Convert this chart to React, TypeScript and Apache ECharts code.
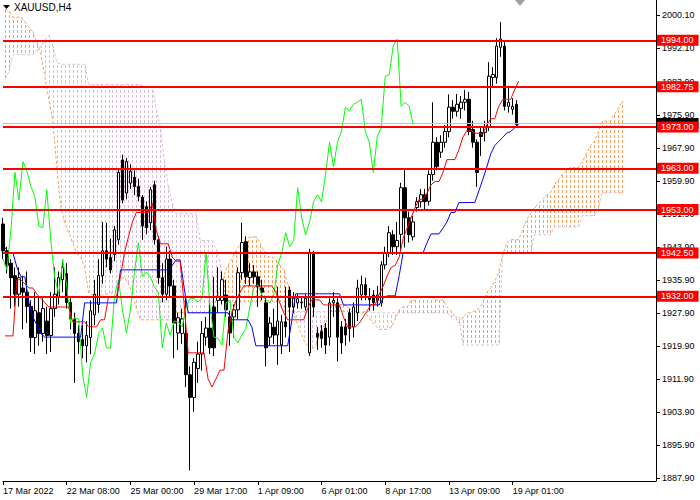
import React, { useEffect, useRef } from 'react';
import * as echarts from 'echarts';

const chartTitle = 'XAUUSD,H4';
const xTickLabels = ['17 Mar 2022', '22 Mar 08:00', '25 Mar 00:00', '29 Mar 17:00', '1 Apr 09:00', '6 Apr 01:00', '8 Apr 17:00', '13 Apr 09:00', '19 Apr 01:00'];
const barsPerTick = 16;
const totalSlots = 165;
const indicatorSlots = 164;
const chikouShift = 26;

const yTicks = [1887.9, 1895.9, 1903.9, 1911.9, 1919.9, 1927.9, 1935.9, 1943.9, 1951.9, 1959.9, 1967.9, 1975.9, 1983.9, 1992.1, 2000.1];
const yMin = 1887.25;
const yMax = 2003.76;

// [open, close, low, high]
const candles: number[][] = [
  [1949.5, 1943.0, 1941.0, 1951.0], [1943.0, 1939.5, 1937.5, 1944.0], [1940.0, 1936.5, 1929.0, 1941.0], [1937.0, 1932.5, 1929.5, 1939.0],
  [1932.5, 1936.5, 1929.5, 1939.0], [1934.0, 1933.0, 1924.0, 1937.0], [1933.0, 1929.5, 1925.5, 1938.0], [1929.5, 1922.0, 1918.5, 1931.0],
  [1922.0, 1928.5, 1918.0, 1933.0], [1928.0, 1923.0, 1920.0, 1932.0], [1923.0, 1929.0, 1921.0, 1931.5], [1926.0, 1922.5, 1918.0, 1929.5],
  [1922.5, 1929.0, 1918.5, 1933.0], [1929.0, 1932.5, 1927.0, 1939.0], [1932.0, 1936.5, 1930.0, 1938.0], [1936.0, 1939.0, 1933.0, 1941.0],
  [1937.5, 1930.5, 1929.0, 1940.0], [1930.5, 1926.5, 1924.0, 1931.5], [1926.5, 1923.0, 1911.0, 1928.0], [1923.0, 1921.0, 1918.0, 1925.0],
  [1921.5, 1920.0, 1917.0, 1925.0], [1920.0, 1922.5, 1916.0, 1926.0], [1922.0, 1928.5, 1918.0, 1931.0], [1927.5, 1932.5, 1925.0, 1936.0],
  [1930.0, 1937.0, 1928.0, 1941.0], [1937.0, 1943.0, 1935.0, 1950.0], [1943.0, 1941.0, 1939.0, 1949.8], [1941.4, 1938.4, 1937.5, 1946.0],
  [1942.1, 1948.1, 1940.5, 1949.0], [1945.7, 1962.0, 1944.5, 1963.0], [1965.0, 1955.3, 1954.5, 1966.3], [1957.0, 1964.6, 1955.5, 1965.5],
  [1959.4, 1962.3, 1958.0, 1964.0], [1960.8, 1958.6, 1956.5, 1962.5],
  [1958.6, 1956.2, 1955.0, 1960.5], [1956.0, 1949.0, 1945.7, 1956.5], [1953.7, 1948.6, 1947.0, 1955.0], [1949.8, 1957.8, 1948.0, 1958.5],
  [1959.0, 1945.7, 1944.5, 1960.0], [1945.7, 1936.5, 1935.0, 1946.5], [1936.5, 1932.5, 1930.5, 1940.0], [1932.5, 1941.0, 1931.0, 1944.0],
  [1941.0, 1934.5, 1932.0, 1943.0], [1934.5, 1925.5, 1917.0, 1936.0], [1923.1, 1926.8, 1919.0, 1928.0], [1923.0, 1926.5, 1920.5, 1929.0],
  [1923.0, 1913.0, 1910.0, 1932.0], [1913.0, 1907.5, 1889.8, 1915.0], [1907.5, 1916.0, 1904.0, 1917.0], [1914.5, 1918.0, 1911.0, 1921.0],
  [1918.0, 1923.0, 1914.0, 1926.0], [1922.1, 1924.3, 1920.0, 1927.0], [1924.3, 1919.5, 1918.0, 1930.4], [1929.4, 1919.5, 1917.5, 1936.7],
  [1931.0, 1932.0, 1928.0, 1939.0], [1931.0, 1936.0, 1930.0, 1938.0], [1932.3, 1928.7, 1927.0, 1936.0], [1927.0, 1923.1, 1920.0, 1928.5],
  [1927.0, 1928.7, 1922.0, 1930.0], [1928.7, 1937.7, 1926.5, 1939.0], [1937.7, 1945.0, 1936.0, 1949.8], [1945.2, 1936.7, 1935.0, 1946.5],
  [1936.5, 1937.9, 1934.5, 1940.0], [1937.9, 1936.7, 1935.0, 1939.5], [1936.7, 1934.3, 1929.4, 1938.0], [1934.0, 1933.0, 1931.0, 1936.0],
  [1930.4, 1919.5, 1915.0, 1932.0], [1922.1, 1925.5, 1920.0, 1927.0], [1924.5, 1922.6, 1920.5, 1929.0], [1922.6, 1926.0, 1915.4, 1934.3],
  [1920.2, 1925.8, 1918.0, 1927.5], [1925.8, 1924.6, 1922.0, 1934.3], [1933.5, 1929.4, 1918.5, 1934.3], [1929.4, 1931.5, 1928.0, 1933.0],
  [1930.4, 1931.4, 1929.0, 1932.5], [1930.4, 1930.6, 1929.0, 1932.0], [1929.4, 1931.5, 1928.5, 1932.5], [1918.3, 1942.5, 1917.5, 1943.5],
  [1942.5, 1929.4, 1927.0, 1943.0], [1923.0, 1922.1, 1919.0, 1924.5], [1923.5, 1921.8, 1919.5, 1925.0], [1924.3, 1920.2, 1918.0, 1925.5],
  [1922.1, 1930.4, 1920.0, 1931.5], [1930.4, 1931.0, 1927.0, 1933.0], [1930.4, 1922.1, 1916.2, 1931.5], [1924.6, 1920.7, 1918.0, 1926.0],
  [1924.6, 1922.6, 1920.0, 1926.5], [1928.0, 1924.2, 1921.0, 1929.0], [1924.6, 1929.4, 1922.0, 1930.5], [1928.0, 1934.0, 1926.0, 1936.0],
  [1932.3, 1934.8, 1931.0, 1937.0], [1934.8, 1932.3, 1931.0, 1936.5], [1931.9, 1931.2, 1928.5, 1934.0], [1932.3, 1930.4, 1928.5, 1933.5],
  [1931.0, 1932.3, 1929.5, 1934.5], [1930.4, 1939.6, 1929.5, 1940.5], [1939.6, 1942.5, 1938.5, 1944.0], [1942.5, 1947.4, 1941.5, 1949.0],
  [1946.9, 1944.0, 1942.0, 1948.0], [1944.0, 1945.5, 1942.0, 1950.0], [1947.0, 1958.3, 1943.0, 1959.5], [1958.3, 1951.0, 1943.8, 1962.7],
  [1951.0, 1946.9, 1945.0, 1952.5], [1946.4, 1950.0, 1945.5, 1951.5], [1953.5, 1954.9, 1952.5, 1956.0], [1954.9, 1956.6, 1953.5, 1958.0],
  [1956.6, 1954.9, 1953.0, 1958.0], [1955.0, 1961.5, 1954.0, 1962.5], [1961.5, 1969.3, 1960.0, 1979.0], [1969.3, 1963.4, 1962.5, 1970.5],
  [1966.9, 1969.3, 1965.5, 1971.0], [1969.3, 1971.9, 1968.0, 1973.5], [1971.9, 1977.8, 1970.5, 1980.9], [1977.8, 1976.8, 1975.0, 1979.5],
  [1976.8, 1978.5, 1975.5, 1981.0], [1977.5, 1979.0, 1975.0, 1980.5], [1979.0, 1979.7, 1977.0, 1982.0], [1979.7, 1971.9, 1971.0, 1981.5],
  [1972.4, 1969.3, 1968.0, 1974.5], [1969.3, 1962.0, 1958.5, 1970.0], [1971.7, 1970.7, 1966.0, 1973.0], [1971.7, 1972.9, 1969.5, 1974.5],
  [1972.9, 1985.3, 1972.0, 1988.7], [1985.0, 1985.7, 1982.5, 1987.5], [1985.0, 1992.6, 1983.5, 1994.5], [1992.3, 1994.3, 1990.0, 1998.4],
  [1992.6, 1978.0, 1977.0, 1994.0], [1978.0, 1979.0, 1976.5, 1983.0], [1977.3, 1978.0, 1976.0, 1980.0], [1978.5, 1973.6, 1973.0, 1979.5],
];

const tenkan = [
  1922.4, 1922.4, 1922.4, 1936.0, 1936.0, 1935.0, 1934.0, 1934.0, 1932.5, 1931.5, 1930.5,
  1929.4, 1929.4, 1929.4, 1929.4, 1929.4, 1929.4, 1925.8, 1925.8, 1925.8, 1925.8,
  1924.6, 1924.6, 1924.6, 1926.3, 1926.3, 1931.9, 1931.9, 1931.9, 1936.7, 1942.5, 1946.4, 1950.0,
  1952.3, 1952.3, 1952.3, 1952.3, 1954.5, 1948.0, 1944.7, 1944.7, 1944.7, 1941.5, 1940.5, 1940.5, 1930.0,
  1918.3, 1918.3, 1918.3, 1918.3, 1918.3, 1912.0, 1910.0, 1912.0, 1914.1, 1914.1, 1923.5, 1928.0, 1931.0, 1933.0,
  1934.5, 1934.5, 1934.5, 1934.5, 1934.5, 1934.5, 1934.5, 1934.5, 1933.0, 1930.4, 1928.0,
  1926.3, 1926.3, 1926.3, 1926.3, 1926.3, 1929.0, 1931.1, 1931.1, 1931.1,
  1929.9, 1929.9, 1929.9, 1929.9, 1929.9, 1927.0, 1924.6, 1924.6, 1924.6, 1925.5, 1927.0, 1928.5, 1930.0, 1930.0,
  1932.5, 1934.5, 1937.0, 1939.0, 1939.5, 1941.5, 1946.0, 1948.5, 1951.0, 1953.5, 1955.5, 1955.5, 1957.0, 1959.0,
  1959.8, 1959.8, 1962.0, 1965.1, 1965.1, 1965.1, 1967.5, 1970.5, 1972.2, 1972.2, 1971.5, 1971.5, 1971.2, 1973.5,
  1975.0, 1975.0, 1978.0, 1979.7, 1979.7, 1979.7, 1982.0, 1984.1,
];

const kijun = [
  1943.8, 1942.5, 1942.5, 1939.0, 1936.7, 1936.7, 1930.5, 1927.0, 1925.0, 1923.0,
  1922.1, 1922.1, 1922.1, 1922.1, 1922.1, 1922.1, 1922.1, 1922.1, 1922.1, 1922.1,
  1930.4, 1930.4, 1930.4, 1930.4, 1930.4, 1930.4, 1930.4, 1930.4, 1930.4,
  1938.4, 1938.4, 1938.4, 1938.4, 1938.4, 1938.4, 1938.4, 1938.4, 1938.4, 1938.4, 1938.4, 1938.4, 1938.4,
  1939.5, 1940.8, 1940.8, 1934.0,
  1928.0, 1928.0, 1928.0, 1928.0, 1928.0, 1928.0, 1928.0, 1928.0, 1928.0, 1928.0, 1928.0,
  1926.3, 1926.3, 1926.3, 1926.3, 1926.3, 1924.6,
  1920.0, 1920.0, 1920.0, 1920.0, 1920.0, 1920.0, 1920.0, 1920.0, 1920.0, 1926.0,
  1932.6, 1932.6, 1932.6, 1932.6, 1932.6, 1932.6, 1932.6, 1932.6, 1932.6, 1932.6, 1932.6, 1932.6,
  1929.9, 1929.9, 1929.9, 1929.9, 1929.9, 1929.9, 1929.9, 1929.9, 1929.9, 1929.9,
  1931.6, 1932.1, 1932.1, 1932.1, 1937.0, 1942.5, 1942.5, 1942.5, 1942.5, 1942.5, 1942.5,
  1945.0, 1947.1, 1947.1, 1947.1, 1948.5, 1950.0, 1952.3, 1952.3, 1954.7, 1954.7, 1954.7, 1954.7, 1954.7,
  1957.5, 1960.3, 1963.3, 1966.5, 1968.5, 1969.5, 1970.5, 1971.5, 1971.9, 1972.8, 1973.6,
];

const senkouA = [
  2001.5, 2001.0, 1999.6, 1999.6, 1999.6, 1998.4, 1997.2, 1996.0, 1993.5, 1990.6,
  1985.3, 1979.7, 1974.8, 1963.4, 1953.7, 1949.8, 1947.4, 1944.9, 1942.5, 1941.3,
  1939.1, 1932.8, 1932.3, 1932.3, 1932.3, 1932.3, 1932.8, 1932.8, 1933.5, 1936.0,
  1936.7, 1935.0, 1932.5, 1929.0, 1926.3, 1926.3, 1926.3, 1926.3, 1926.3, 1926.3,
  1926.3, 1926.3, 1926.3, 1928.0, 1928.0, 1928.0, 1928.0, 1928.0, 1928.0, 1928.0,
  1928.0, 1928.0, 1928.0, 1931.0, 1934.0, 1937.0, 1939.5, 1941.0, 1943.0, 1944.5,
  1945.5, 1946.2, 1946.4, 1946.4, 1945.0, 1943.0, 1941.6, 1941.5, 1940.8, 1939.5,
  1938.5, 1935.0, 1931.0, 1926.3, 1923.9, 1921.5, 1920.0, 1919.0, 1920.0, 1922.5,
  1924.6, 1926.5, 1929.5, 1930.0, 1930.0, 1930.0, 1929.5, 1928.5, 1928.5, 1928.0,
  1928.0, 1927.5, 1926.0, 1925.0, 1924.0, 1924.0, 1924.0, 1924.5, 1926.5, 1928.7,
  1929.4, 1929.4, 1931.0, 1931.0, 1931.9, 1931.9, 1931.9, 1931.9, 1931.1, 1931.1,
  1931.1, 1929.4, 1928.5, 1927.0, 1925.5, 1927.0, 1928.0, 1928.0, 1928.5, 1929.0,
  1930.5, 1933.0, 1934.0, 1935.5, 1938.0, 1942.0, 1945.0, 1945.7, 1945.7, 1945.7,
  1948.0, 1950.6, 1952.0, 1953.5, 1954.5, 1955.5, 1956.5, 1957.1, 1959.0, 1960.3,
  1961.5, 1962.5, 1963.2, 1963.2, 1963.2, 1964.5, 1966.5, 1968.5, 1969.5, 1971.7,
  1974.4, 1974.4, 1974.4, 1976.0, 1977.5, 1979.2,
];

const senkouB = [
  1984.6, 1986.5, 1990.5, 1990.5, 1990.5, 1990.5, 1990.5, 1990.5, 1991.5, 1992.5,
  1994.0, 1995.2, 1992.6, 1988.7, 1988.2, 1988.2, 1988.2, 1988.2, 1988.2, 1988.2,
  1988.2, 1983.3, 1983.3, 1983.3, 1983.3, 1983.3, 1983.3, 1983.3, 1983.3, 1983.3,
  1983.3, 1983.3, 1983.3, 1983.3, 1983.3, 1982.6, 1982.6, 1982.6, 1977.3, 1973.0,
  1965.0, 1958.6, 1954.7, 1952.0, 1952.0, 1952.0, 1952.0, 1952.0, 1952.0, 1945.5,
  1945.5, 1945.5, 1945.5, 1943.5, 1940.0, 1933.0, 1930.6, 1930.6, 1930.6, 1930.6,
  1930.6, 1930.6, 1930.6, 1930.6, 1930.6, 1930.6, 1930.6, 1930.6, 1930.6, 1930.6,
  1928.3, 1928.3, 1928.3, 1928.3, 1928.3, 1928.3, 1928.3, 1928.3, 1928.3, 1928.3,
  1928.3, 1928.3, 1928.3, 1928.3, 1928.3, 1928.3, 1928.3, 1928.3, 1928.3, 1928.3,
  1928.3, 1928.3, 1928.3, 1928.0, 1928.0, 1928.0, 1928.0, 1928.0, 1928.0, 1928.0,
  1928.0, 1928.0, 1928.0, 1928.0, 1928.0, 1928.0, 1928.0, 1928.0, 1928.0, 1928.0,
  1928.0, 1928.0, 1927.0, 1927.0, 1927.0, 1920.2, 1920.2, 1920.2, 1920.2, 1920.2,
  1920.2, 1920.2, 1920.2, 1920.2, 1920.2, 1942.5, 1942.5, 1942.5, 1942.5, 1942.5,
  1942.5, 1942.5, 1942.5, 1946.9, 1946.9, 1946.9, 1946.9, 1946.9, 1948.8, 1948.8,
  1948.8, 1948.8, 1948.8, 1948.8, 1948.8, 1951.5, 1951.5, 1951.5, 1951.5, 1953.0,
  1957.1, 1957.1, 1957.1, 1957.1, 1957.1, 1957.1,
];

const levels = [1994.0, 1982.75, 1973.0, 1963.0, 1953.0, 1942.5, 1932.0];
const bidPrice = 1973.85;

const FONT = 'Liberation Sans';
const ORANGE = '#F4A460';
const THISTLE = '#D8BFD8';
const DASH_ON = 3;
const DASH_PERIOD = 5;

export default function App() {
  const ref = useRef<HTMLDivElement>(null);

  useEffect(() => {
    if (!ref.current) return;
    const chart = echarts.init(ref.current, undefined, { renderer: 'svg' });

    const categories = Array.from({ length: totalSlots }, (_, i) => String(i));
    const indicatorCategories = Array.from({ length: indicatorSlots }, (_, i) => String(i));
    const isTick = (i: number) => i % barsPerTick === 0 && i / barsPerTick < xTickLabels.length;
    const closes = candles.map((c) => c[1]);
    const chikou = closes.slice(chikouShift);
    const cloudRows = senkouA.map((a, i) => [i, a, senkouB[i]]);

    // dotted vertical hatch between the two spans, drawn as crisp 1px dashes
    const hatchRender = (params: any, api: any) => {
      const i = api.value(0);
      const a = api.value(1);
      const b = api.value(2);
      const p1 = api.coord([i, a]);
      const p2 = api.coord([i, b]);
      const col = a >= b ? ORANGE : THISTLE;
      const xCol = Math.round(p1[0]);
      const yTop = Math.round(Math.min(p1[1], p2[1]));
      const yBot = Math.round(Math.max(p1[1], p2[1]));
      const children: any[] = [];
      for (let y = Math.floor(yTop / DASH_PERIOD) * DASH_PERIOD; y < yBot; y += DASH_PERIOD) {
        const s = Math.max(y, yTop);
        const e = Math.min(y + DASH_ON, yBot);
        if (e > s) {
          children.push({ type: 'rect', shape: { x: xCol, y: s, width: 1, height: e - s }, style: { fill: col } });
        }
      }
      return { type: 'group', children };
    };

    const labelCommon = {
      show: true, position: 'end', distance: 1,
      formatter: (p: any) => Number(p.value).toFixed(2),
      padding: [1, 5, 0, 4], fontSize: 9, lineHeight: 10, fontFamily: FONT,
    };

    const option: any = {
      animation: false,
      backgroundColor: '#ffffff',
      textStyle: { fontFamily: FONT },
      grid: { left: 0, right: 44, top: 0, bottom: 19, containLabel: false },
      xAxis: [
        {
          type: 'category',
          data: categories,
          boundaryGap: false,
          axisLine: { show: true, lineStyle: { color: '#000', width: 1 } },
          axisTick: { show: true, interval: (i: number) => isTick(i), length: 4, lineStyle: { color: '#000' } },
          axisLabel: {
            show: true,
            interval: (i: number) => isTick(i),
            formatter: (v: string) => {
              const i = Number(v);
              return isTick(i) ? xTickLabels[i / barsPerTick] : '';
            },
            align: 'left',
            margin: 5,
            color: '#000',
            fontSize: 9,
            fontFamily: FONT,
          },
          splitLine: { show: false },
        },
        {
          type: 'category',
          data: indicatorCategories,
          boundaryGap: true,
          show: false,
          position: 'bottom',
        },
      ],
      yAxis: {
        type: 'value',
        position: 'right',
        min: yMin,
        max: yMax,
        scale: true,
        axisLine: { show: true, lineStyle: { color: '#000', width: 1 } },
        axisTick: { show: true, customValues: yTicks, length: 4, lineStyle: { color: '#000' } },
        axisLabel: {
          show: true,
          customValues: yTicks,
          formatter: (v: number) => v.toFixed(2),
          color: '#000',
          fontSize: 9,
          fontFamily: FONT,
          margin: 6,
        },
        splitLine: { show: false },
      },
      graphic: [
        { type: 'polygon', shape: { points: [[3, 5], [10, 5], [6.5, 9]] }, style: { fill: '#000' }, z: 100 },
        { type: 'text', left: 14, top: 2, style: { text: chartTitle, font: `10px "${FONT}"`, fill: '#000' }, z: 100 },
        { type: 'polygon', shape: { points: [[515, 0], [525, 0], [520, 6]] }, style: { fill: '#a0a0a0' }, z: 100 },
      ],
      series: [
        {
          type: 'custom', name: 'Cloud', silent: true, z: 1, xAxisIndex: 1,
          itemStyle: { color: ORANGE },
          encode: { x: 0, y: [1, 2] },
          data: cloudRows,
          renderItem: hatchRender,
        },
        {
          type: 'line', name: 'Senkou A', data: senkouA, symbol: 'none', silent: true, z: 1, xAxisIndex: 1,
          lineStyle: { color: ORANGE, width: 1, type: [3, 2] },
        },
        {
          type: 'line', name: 'Senkou B', data: senkouB, symbol: 'none', silent: true, z: 1, xAxisIndex: 1,
          lineStyle: { color: THISTLE, width: 1, type: [3, 2] },
        },
        {
          type: 'candlestick',
          name: 'XAUUSD',
          data: candles,
          barWidth: 3,
          silent: true,
          z: 2,
          xAxisIndex: 0,
          itemStyle: { color: '#ffffff', color0: '#000000', borderColor: '#000000', borderColor0: '#000000', borderWidth: 1 },
        },
        {
          type: 'line', name: 'Chikou', data: chikou, symbol: 'none', silent: true, z: 3, xAxisIndex: 0,
          lineStyle: { color: '#00ff00', width: 1 },
        },
        {
          type: 'line', name: 'Kijun', data: kijun, symbol: 'none', silent: true, z: 3, xAxisIndex: 1,
          lineStyle: { color: '#0000ff', width: 1 },
          markLine: {
            silent: true,
            symbol: ['none', 'none'],
            z: 5,
            lineStyle: { color: '#c0c0c0', width: 1, type: 'solid' },
            label: { ...labelCommon, color: '#000', backgroundColor: '#000' },
            data: [{ yAxis: bidPrice }],
          },
        },
        {
          type: 'line', name: 'Tenkan', data: tenkan, symbol: 'none', silent: true, z: 3, xAxisIndex: 1,
          lineStyle: { color: '#ff0000', width: 1 },
          markLine: {
            silent: true,
            symbol: ['none', 'none'],
            z: 6,
            lineStyle: { color: '#ff0000', width: 2, type: 'solid' },
            label: { ...labelCommon, color: '#ffffff', backgroundColor: '#ff0000' },
            data: levels.map((v) => ({ yAxis: v })),
          },
        },
      ],
    };

    chart.setOption(option);
    return () => chart.dispose();
  }, []);

  return <div ref={ref} style={{ position: 'fixed', left: 0, top: 0, width: 700, height: 500 }} />;
}
